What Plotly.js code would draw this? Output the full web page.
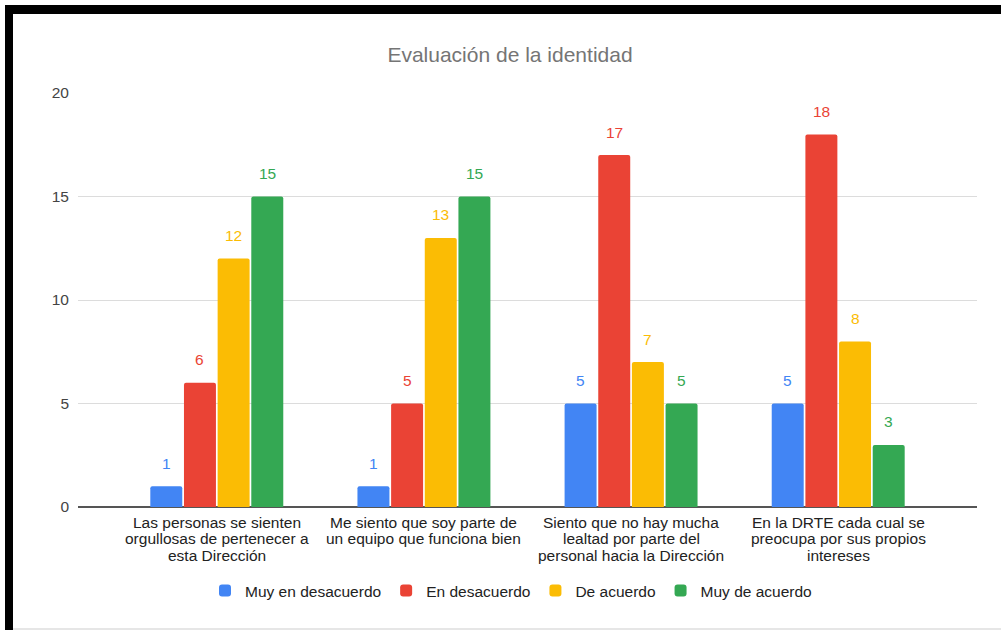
<!DOCTYPE html>
<html>
<head>
<meta charset="utf-8">
<script src="https://cdn.plot.ly/plotly-3.0.1.min.js"></script>
<style>
  html, body { margin: 0; padding: 0; background: #ffffff; }
  #wrap { position: relative; width: 1001px; height: 630px; overflow: hidden; }
  #chart { position: absolute; left: 0; top: 0; width: 1001px; height: 630px; }
  .bar-top { position: absolute; left: 5px; top: 5px; width: 996px; height: 9px; background: #000; }
  .bar-left { position: absolute; left: 5px; top: 5px; width: 8px; height: 625px; background: #000; }
  .line-bottom { position: absolute; left: 13px; top: 628px; width: 988px; height: 2px; background: #e6e6e6; }
</style>
</head>
<body>
<div id="wrap">
  <div id="chart"></div>
  <div class="bar-top"></div>
  <div class="bar-left"></div>
  <div class="line-bottom"></div>
</div>
<script>
const categories = [
  "Las personas se sienten<br>orgullosas de pertenecer a<br>esta Dirección",
  "Me siento que soy parte de<br>un equipo que funciona bien",
  "Siento que no hay mucha<br>lealtad por parte del<br>personal hacia la Dirección",
  "En la DRTE cada cual se<br>preocupa por sus propios<br>intereses"
];
const seriesNames = ["Muy en desacuerdo", "En desacuerdo", "De acuerdo", "Muy de acuerdo"];
const muyEnDesacuerdo = [1, 1, 5, 5];
const enDesacuerdo = [6, 5, 17, 18];
const deAcuerdo = [12, 13, 7, 8];
const muyDeAcuerdo = [15, 15, 5, 3];
const seriesValues = [muyEnDesacuerdo, enDesacuerdo, deAcuerdo, muyDeAcuerdo];
const colors = ["#4285F4", "#EA4335", "#FBBC04", "#34A853"];

const FONT = "Arial, 'Liberation Sans', sans-serif";
const catIdx = categories.map((_, i) => i);
const bargap = 0.35;
const nSeries = seriesValues.length;
const slot = (1 - bargap) / nSeries;

const traces = seriesValues.map((vals, k) => ({
  type: "bar",
  name: seriesNames[k],
  x: catIdx,
  y: vals,
  marker: { color: colors[k] },
  hoverinfo: "x+y"
}));

const annotations = [];
// value labels above each bar
seriesValues.forEach((vals, k) => {
  vals.forEach((v, i) => {
    annotations.push({
      x: i + (k - (nSeries - 1) / 2) * slot,
      y: v,
      xref: "x", yref: "y",
      text: String(v),
      showarrow: false,
      yanchor: "middle",
      yshift: 23,
      font: { family: FONT, size: 15.5, color: colors[k] }
    });
  });
});
// category labels (one annotation per line for tight line spacing)
categories.forEach((label, i) => {
  label.split("<br>").forEach((line, j) => {
    annotations.push({
      x: i, y: 0,
      xref: "x", yref: "paper",
      text: line,
      showarrow: false,
      xanchor: "center",
      yanchor: "middle",
      yshift: -(15 + j * 16.5),
      font: { family: FONT, size: 15.5, color: "#222222" }
    });
  });
});

const layout = {
  width: 1001,
  height: 630,
  paper_bgcolor: "#ffffff",
  plot_bgcolor: "#ffffff",
  margin: { l: 78, r: 24, t: 93, b: 123 },
  barmode: "group",
  bargap: bargap,
  bargroupgap: 0.05,
  barcornerradius: 2,
  font: { family: FONT, size: 15.5, color: "#222222" },
  title: {
    text: "Evaluación de la identidad",
    font: { family: FONT, size: 21, color: "#757575" },
    x: 510 / 1001, xref: "container", xanchor: "center",
    y: 1 - 55 / 630, yref: "container", yanchor: "middle"
  },
  xaxis: {
    type: "linear",
    range: [-0.67, 3.67],
    tickvals: catIdx,
    ticktext: catIdx.map(() => ""),
    showticklabels: false,
    showgrid: false,
    zeroline: false,
    showline: false,
    ticks: "",
    fixedrange: true
  },
  yaxis: {
    range: [0, 20],
    dtick: 5,
    showgrid: true,
    gridcolor: "#dcdcdc",
    gridwidth: 1,
    zeroline: true,
    zerolinecolor: "#555555",
    zerolinewidth: 1.5,
    showline: false,
    ticks: "",
    ticklabelstandoff: 8,
    tickfont: { family: FONT, size: 15.5, color: "#444444" },
    fixedrange: true
  },
  showlegend: true,
  legend: {
    orientation: "h",
    x: 511 / 899 - 78 / 899, xanchor: "center",
    y: -0.203, yanchor: "middle",
    font: { family: FONT, size: 15.5, color: "#222222" },
    itemwidth: 30,
    traceorder: "normal"
  },
  annotations: annotations
};

Plotly.newPlot("chart", traces, layout, { displayModeBar: false, staticPlot: true });
</script>
</body>
</html>
